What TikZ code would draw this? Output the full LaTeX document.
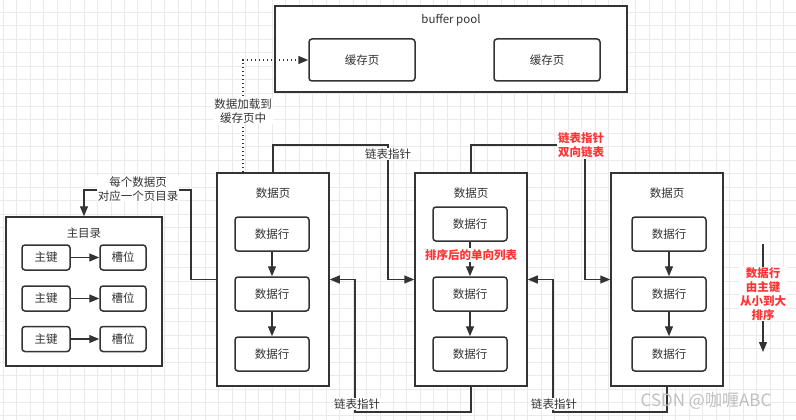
\documentclass[tikz,border=0pt]{standalone}
\usepackage{fontspec}
\setmainfont{Noto Sans CJK SC}
\usetikzlibrary{arrows.meta}
\definecolor{ln}{RGB}{51,51,51}
\definecolor{redt}{RGB}{255,51,51}
\definecolor{gridc}{RGB}{234,234,234}
\tikzset{
  pagebox/.style={draw=ln,line width=1.5pt,fill=white,minimum width=112pt,minimum height=213pt,inner sep=0pt},
  rowbox/.style={draw=ln,line width=1.5pt,fill=white,rounded corners=3pt,minimum width=74pt,minimum height=34pt,inner sep=0pt,font=\fontsize{11.5}{13}\selectfont,text=ln},
  smallbox/.style={draw=ln,line width=1.5pt,fill=white,rounded corners=3pt,minimum height=25pt,inner sep=0pt,font=\fontsize{11.5}{13}\selectfont,text=ln},
  cachebox/.style={draw=ln,line width=1.5pt,fill=white,rounded corners=3pt,minimum width=106pt,minimum height=42pt,inner sep=0pt,font=\fontsize{11.5}{13}\selectfont,text=ln},
  ttl/.style={font=\fontsize{11.5}{13}\selectfont,text=ln},
  conn/.style={draw=ln,line width=1.3pt},
  arr/.style={conn,-{Triangle[length=10pt,width=8pt]}},
  lbl/.style={fill=white,inner sep=1pt,align=center,font=\fontsize{11.5}{14}\selectfont,text=ln},
  redlbl/.style={fill=white,inner sep=1pt,align=center,font=\fontsize{11.5}{14}\selectfont\bfseries,text=redt},
}
\begin{document}
\begin{tikzpicture}[x=1pt,y=-1pt]
\useasboundingbox (0,0) rectangle (796,420);
\fill[white] (0,0) rectangle (796,420);
% grid
\foreach \i in {0,...,59} {\draw[gridc,line width=0.8pt] ({3.3+13.45*\i},0) -- ({3.3+13.45*\i},420);}
\foreach \j in {0,...,31} {\draw[gridc,line width=0.8pt] (0,{-1.15+13.45*\j}) -- (796,{-1.15+13.45*\j});}

% buffer pool
\node[pagebox,minimum width=352pt,minimum height=86pt] (bp) at (451,49) {};
\node[ttl] (bpt) at (451,20) {buffer pool};
\node[cachebox] (c1) at (362,60) {缓存页};
\node[cachebox] (c2) at (547,60) {缓存页};

% data pages
\node[pagebox] (p1) at (273,279.5) {};
\node[pagebox] (p2) at (471,279.5) {};
\node[pagebox] (p3) at (667,279.5) {};
\node[ttl] (p1t) at (273,193) {数据页};
\node[ttl] (p2t) at (471,193) {数据页};
\node[ttl] (p3t) at (667,193) {数据页};

\node[rowbox] (r11) at (272,234) {数据行};
\node[rowbox] (r12) at (272,294) {数据行};
\node[rowbox] (r13) at (272,354) {数据行};
\node[rowbox] (r21) at (470,224) {数据行};
\node[rowbox] (r22) at (470,294) {数据行};
\node[rowbox] (r23) at (470,354) {数据行};
\node[rowbox] (r31) at (669,234) {数据行};
\node[rowbox] (r32) at (669,294) {数据行};
\node[rowbox] (r33) at (669,354) {数据行};

\draw[arr] (r11) -- (r12);
\draw[arr] (r12) -- (r13);
\draw[arr] (r21) -- (r22);
\draw[arr] (r22) -- (r23);
\draw[arr] (r31) -- (r32);
\draw[arr] (r32) -- (r33);
\node[redlbl] (sl) at (471,255) {排序后的单向列表};

% main directory
\node[pagebox,minimum width=156pt,minimum height=149pt] (md) at (84,291.5) {};
\node[ttl] (mdt) at (84,233) {主目录};
\foreach \n/\y in {1/257.5,2/298.5,3/339} {
  \node[smallbox,minimum width=48pt] (k\n) at (46,\y) {主键};
  \node[smallbox,minimum width=46pt] (s\n) at (123,\y) {槽位};
  \draw[arr] (k\n) -- (s\n);
}

% coordinates for connector bends
\coordinate (dl) at (243,60);
\coordinate (kd) at (191,190);
\coordinate (t1) at (388,145);
\coordinate (t2) at (585,145);
\coordinate (b1) at (355,412);
\coordinate (b2) at (553,412);
\coordinate (va) at (763,244);
\coordinate (vb) at (763,352);

% dotted load
\draw[conn,line width=1.5pt,dash pattern=on 1.5pt off 2.5pt,-{Triangle[length=10pt,width=8pt]}] (p1.north -| dl) -- (dl) -- (c1.west);
\node[lbl] (ll) at (243,111) {数据加载到\\缓存页中};

% page -> directory
\draw[arr] (p1.west) -| (kd) -| (md.north);
\node[lbl] (dlbl) at (138,189) {每个数据页\\对应一个页目录};

% links
\draw[arr] (p1.north) |- (t1) |- (p2.west);
\node[lbl] (l1) at (388,154) {链表指针};
\draw[arr] (p2.north) |- (t2) |- (p3.west);
\node[redlbl] (l2) at (581,145) {链表指针\\双向链表};
\draw[arr] (p2.south) |- (b1) |- (p1.east);
\node[lbl] (l3) at (357,404) {链表指针};
\draw[arr] (p3.south) |- (b2) |- (p2.east);
\node[lbl] (l4) at (554,404) {链表指针};

% sort direction
\draw[arr] (va) -- (vb);
\node[redlbl] (sd) at (763,294) {数据行\\由主键\\从小到大\\排序};

% watermark
\node[font=\fontsize{17}{19}\selectfont,text=black!25] (wm) at (706,401) {CSDN @咖喱ABC};
\end{tikzpicture}
\end{document}
